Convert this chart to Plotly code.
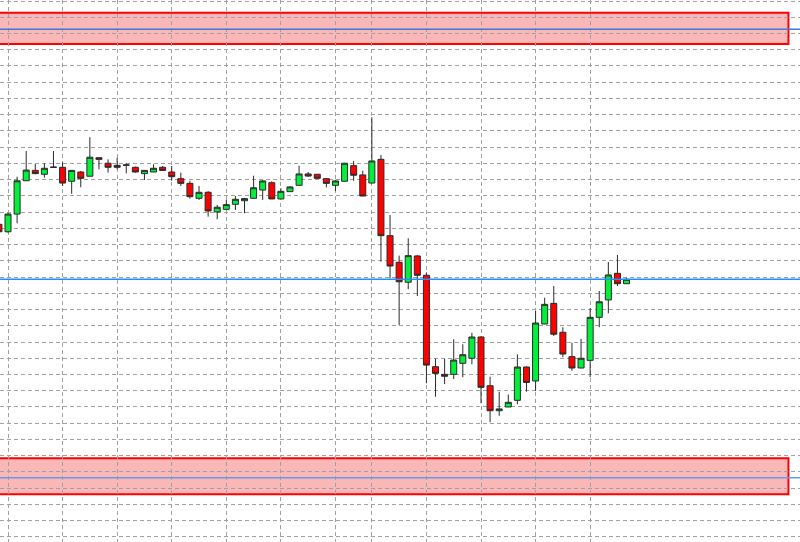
import plotly.graph_objects as go

# bar index (one candle per bar); prices
bar_index = list(range(-1, 69))

open_prices = [
    862.5, 857.9, 868.8, 889.3, 895.7, 893.3, 897.5, 897.6, 889.0, 894.7,
    892.1, 903.5, 900.1, 898.8, 899.1, 897.6, 893.7, 894.7, 897.6, 894.7,
    890.6, 887.7, 878.5, 882.2, 870.1, 871.7, 874.8, 877.0, 878.5, 883.6,
    888.1, 878.1, 882.6, 886.5, 893.5, 893.3, 890.6, 886.5, 889.0, 898.6,
    892.9, 887.9, 902.5, 855.5, 839.1, 826.8, 843.0, 831.1, 774.8, 770.1,
    770.1, 776.9, 780.0, 793.1, 763.1, 747.7, 750.0, 754.1, 774.6, 766.0,
    801.1, 813.8, 796.0, 781.0, 774.0, 778.7, 805.2, 815.9, 832.3, 825.9,
]
high_prices = [
    863.9, 869.5, 891.8, 907.6, 899.6, 900.1, 907.6, 900.7, 895.8, 895.3,
    916.1, 903.6, 902.5, 903.5, 900.1, 898.0, 895.9, 899.4, 898.4, 898.4,
    894.3, 889.3, 886.1, 883.0, 874.4, 877.5, 879.9, 878.7, 892.4, 889.8,
    889.0, 884.7, 886.1, 898.6, 894.7, 893.5, 891.0, 889.8, 900.3, 901.5,
    895.5, 928.4, 905.2, 868.2, 843.2, 853.9, 843.6, 832.9, 779.7, 779.7,
    791.7, 788.6, 795.7, 793.5, 768.6, 759.4, 757.7, 782.4, 775.0, 809.1,
    817.3, 824.5, 799.1, 789.6, 791.9, 810.8, 821.4, 839.3, 843.6, 829.6,
]
low_prices = [
    857.1, 857.3, 863.1, 889.2, 893.3, 891.2, 897.2, 886.1, 881.3, 885.3,
    892.0, 896.4, 894.3, 896.4, 893.9, 894.3, 889.8, 894.6, 895.6, 889.3,
    886.1, 878.3, 877.5, 867.2, 865.6, 871.3, 871.3, 869.3, 878.4, 877.5,
    878.0, 878.0, 882.4, 886.4, 891.6, 890.7, 885.3, 883.0, 888.9, 889.3,
    879.8, 887.8, 839.5, 829.2, 800.5, 822.5, 818.3, 764.6, 756.3, 764.1,
    767.2, 768.3, 776.3, 752.3, 740.6, 744.6, 749.9, 751.7, 759.4, 759.8,
    801.0, 793.7, 780.6, 772.3, 773.9, 768.3, 799.1, 807.7, 824.5, 825.8,
]
close_prices = [
    857.9, 868.8, 889.3, 895.9, 893.7, 897.0, 897.7, 887.9, 895.7, 890.8,
    903.8, 902.5, 897.6, 897.6, 898.9, 894.7, 895.7, 897.0, 895.7, 891.8,
    887.7, 879.5, 882.2, 870.7, 873.0, 874.6, 877.9, 878.3, 885.0, 889.2,
    878.1, 882.8, 885.5, 893.5, 892.2, 890.8, 887.7, 889.2, 900.1, 892.7,
    879.9, 901.5, 855.5, 836.8, 827.1, 843.2, 831.1, 775.8, 770.7, 768.9,
    778.9, 782.2, 793.1, 762.1, 747.7, 748.8, 752.9, 774.6, 765.1, 801.7,
    813.2, 794.8, 782.6, 774.0, 780.0, 805.2, 814.8, 831.3, 825.9, 828.6,
]

# bars where the chart's vertical (period) grid lines fall
period_starts = [0, 6, 12, 18, 24, 30, 36, 40, 46, 52, 58, 64]

# drawn zones (price bands) and horizontal levels
upper_zone = (973.5, 992.8)
lower_zone = (696.2, 718.4)
zone_end_bar = 85.8
upper_level = 982.6
lower_level = 706.4
bid_level = close_prices[-1]

GRID_COLOR = "#a0a0a0"
BULL_COLOR = "#00f03c"
BEAR_COLOR = "#ff0000"
WICK_COLOR = "#2a2a2a"
ZONE_FILL = "#f9b7b7"
ZONE_EDGE = "#ff0000"

fig = go.Figure(
    go.Candlestick(
        x=bar_index,
        open=open_prices,
        high=high_prices,
        low=low_prices,
        close=close_prices,
        increasing=dict(fillcolor=BULL_COLOR, line=dict(color=WICK_COLOR, width=1)),
        decreasing=dict(fillcolor=BEAR_COLOR, line=dict(color=WICK_COLOR, width=1)),
        whiskerwidth=0,
        showlegend=False,
    )
)

for low, high in (upper_zone, lower_zone):
    fig.add_shape(
        type="rect",
        xref="x",
        yref="y",
        x0=-5,
        x1=zone_end_bar,
        y0=low,
        y1=high,
        fillcolor=ZONE_FILL,
        line=dict(color=ZONE_EDGE, width=2),
        layer="below",
    )

for level, color in (
    (upper_level, "#3f7ad8"),
    (lower_level, "#6a9ae6"),
    (bid_level, "#1e90ff"),
):
    fig.add_shape(
        type="line",
        xref="paper",
        yref="y",
        x0=0,
        x1=1,
        y0=level,
        y1=level,
        line=dict(color=color, width=1.5),
        layer="above",
    )

fig.update_layout(
    width=800,
    height=542,
    margin=dict(l=0, r=0, t=0, b=0),
    paper_bgcolor="white",
    plot_bgcolor="white",
    boxgap=0.34,
    boxgroupgap=0,
    showlegend=False,
    xaxis=dict(
        range=[-0.8795, 87.07],
        tickmode="array",
        tickvals=period_starts,
        showticklabels=False,
        ticks="",
        showgrid=True,
        gridcolor=GRID_COLOR,
        griddash="4px,3px",
        gridwidth=1,
        zeroline=False,
        rangeslider=dict(visible=False),
        showline=False,
    ),
    yaxis=dict(
        range=[666.85, 1000.62],
        tick0=0,
        dtick=10,
        showticklabels=False,
        ticks="",
        showgrid=True,
        gridcolor=GRID_COLOR,
        griddash="4px,3px",
        gridwidth=1,
        zeroline=False,
        showline=False,
    ),
)

# the page's default body margin would push the 800x542 chart off the window
fig.write_html(
    "out.html",
    config={"displayModeBar": False},
    post_script="document.body.style.margin = '0';",
)
